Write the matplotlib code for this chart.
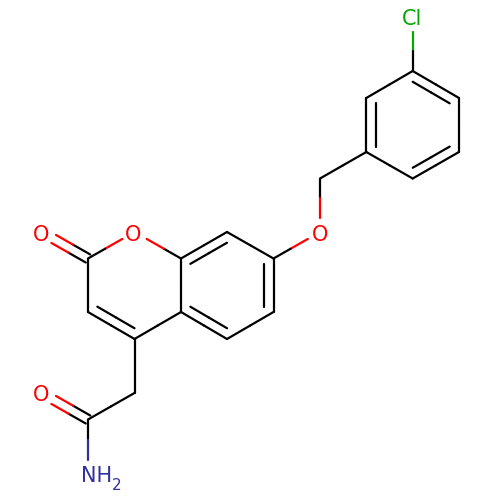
"""
Coumarin acetamide structure drawing (pixel coordinates, y down)
"""

import numpy as np
import matplotlib
matplotlib.use("Agg")
import matplotlib.pyplot as plt

# atoms
atom_names = ['Cl', 'C1', 'C2', 'C3', 'C4', 'C5', 'C6', 'CH2a', 'O7', 'C7', 'C8', 'C8a',
              'C4a', 'C5r', 'C6r', 'O1', 'C2r', 'O2', 'C3r', 'C4r', 'CH2b', 'CO', 'O3', 'N']
atom_x = [412.7, 412.7, 459.0, 459.0, 412.7, 366.3, 366.3, 320.0, 320.0, 273.5, 227.0, 181.0,
          181.0, 227.0, 273.5, 134.5, 88.0, 41.5, 88.0, 134.5, 134.5, 88.0, 41.5, 88.0]
atom_y = [17.5, 71.0, 98.0, 152.0, 178.5, 152.0, 98.0, 178.5, 232.0, 258.5, 232.0, 258.5,
          312.0, 339.0, 312.0, 232.0, 258.5, 232.0, 312.0, 339.0, 393.0, 419.5, 393.0, 473.5]

# bonds: atom a, atom b, order
bonds = [('Cl', 'C1', 1), ('C1', 'C2', 2), ('C2', 'C3', 1), ('C3', 'C4', 2), ('C4', 'C5', 1),
         ('C5', 'C6', 2), ('C6', 'C1', 1), ('C5', 'CH2a', 1), ('CH2a', 'O7', 1), ('O7', 'C7', 1),
         ('C7', 'C8', 1), ('C8', 'C8a', 2), ('C8a', 'C4a', 1), ('C4a', 'C5r', 2), ('C5r', 'C6r', 1),
         ('C6r', 'C7', 2), ('C8a', 'O1', 1), ('O1', 'C2r', 1), ('C2r', 'O2', 2), ('C2r', 'C3r', 1),
         ('C3r', 'C4r', 2), ('C4r', 'C4a', 1), ('C4r', 'CH2b', 1), ('CH2b', 'CO', 1),
         ('CO', 'O3', 2), ('CO', 'N', 1)]

rings = [['C1', 'C2', 'C3', 'C4', 'C5', 'C6'],
         ['C7', 'C8', 'C8a', 'C4a', 'C5r', 'C6r'],
         ['C8a', 'O1', 'C2r', 'C3r', 'C4r', 'C4a']]

element_colors = {'O': '#ff0000', 'Cl': '#00a800', 'N': '#30309f', 'C': '#000000'}
hetero = {'Cl': 'Cl', 'O7': 'O', 'O1': 'O', 'O2': 'O', 'O3': 'O', 'N': 'N'}

# label text, x, baseline y, font size
label_owner = ['Cl', 'O7', 'O1', 'O2', 'O3', 'N', 'N']
label_text = ['Cl', 'O', 'O', 'O', 'O', 'NH', '2']
label_x = [412.0, 320.0, 133.5, 41.0, 41.0, 97.0, 116.5]
label_y = [25.0, 241.0, 241.0, 241.0, 401.0, 482.0, 490.0]
label_size = [15, 15, 15, 15, 15, 15, 11]

LW = 1.6
CLIP = 14.0
pos = {n: np.array([x, y]) for n, x, y in zip(atom_names, atom_x, atom_y)}


def draw_segment(ax, p, q, name_a, name_b):
    """Draw one bond line, coloured half and half by its two atoms"""
    direction = (q - p) / np.linalg.norm(q - p)
    start = p + direction * CLIP if name_a in hetero else p
    end = q - direction * CLIP if name_b in hetero else q
    mid = (start + end) / 2
    for a, b, name in [(start, mid, name_a), (mid, end, name_b)]:
        color = element_colors[hetero.get(name, 'C')]
        ax.plot([a[0], b[0]], [a[1], b[1]], color=color, lw=LW, solid_capstyle='round')


def main():
    fig = plt.figure(figsize=(5, 5), dpi=100, facecolor='white')
    ax = fig.add_axes([0, 0, 1, 1])
    ax.set_xlim(0, 500)
    ax.set_ylim(500, 0)
    ax.axis('off')

    for a, b, order in bonds:
        p, q = pos[a], pos[b]
        direction = (q - p) / np.linalg.norm(q - p)
        normal = np.array([-direction[1], direction[0]])

        ring = next((r for r in rings if a in r and b in r), None)
        if order == 2 and ring is None:
            # exocyclic C=O, two lines either side of the bond
            draw_segment(ax, p + normal * 4.6, q + normal * 4.6, a, b)
            draw_segment(ax, p - normal * 4.6, q - normal * 4.6, a, b)
            continue

        draw_segment(ax, p, q, a, b)
        if order == 2:
            center = np.mean([pos[n] for n in ring], axis=0)
            side = 1 if np.dot(center - p, normal) > 0 else -1
            inner_p = p + side * normal * 9.3 + direction * 5.4
            inner_q = q + side * normal * 9.3 - direction * 5.4
            draw_segment(ax, inner_p, inner_q, a, b)

    for owner, text, x, y, size in zip(label_owner, label_text, label_x, label_y, label_size):
        ax.text(x, y, text, color=element_colors[hetero[owner]], fontsize=size,
                ha='center', va='baseline', family='DejaVu Sans')

    fig.savefig('out.png', dpi=100, facecolor='white')


if __name__ == "__main__":
    main()
